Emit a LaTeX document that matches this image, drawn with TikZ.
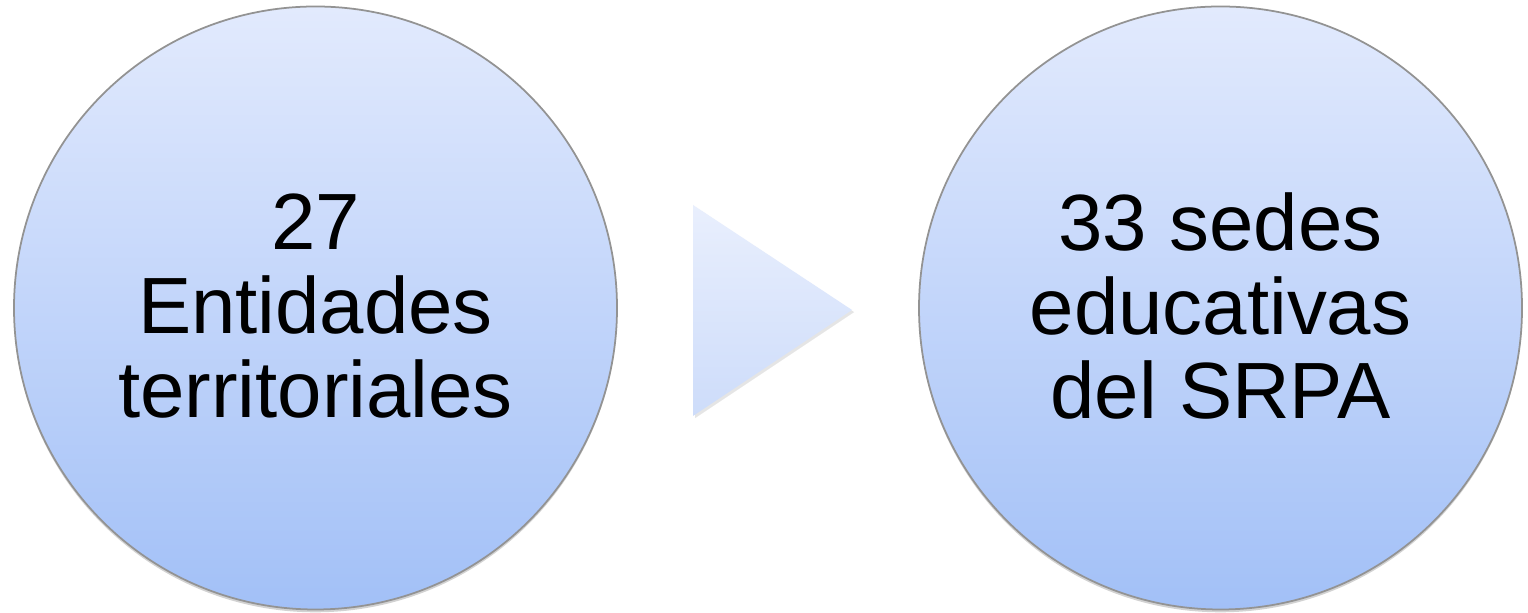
\documentclass[tikz,border=0pt]{standalone}
\usepackage{fontspec}
\setmainfont{Liberation Sans}
\usepackage{xcolor}
\usetikzlibrary{calc, positioning}
\usetikzlibrary{shadows}

\definecolor{discTop}{RGB}{226,234,253}
\definecolor{discBot}{RGB}{162,192,247}
\definecolor{arrTop}{RGB}{233,239,253}
\definecolor{arrBot}{RGB}{205,220,250}

\tikzset{
  disc/.style={circle, minimum size=6.03cm, inner sep=0pt,
    top color=discTop, bottom color=discBot, draw=gray!85, line width=0.5pt,
    drop shadow={shadow xshift=0pt, shadow yshift=-0.8pt, opacity=0.35}},
  disclabel/.style={align=center, inner sep=0pt,
    font=\fontsize{22.7}{24}\selectfont}
}

\begin{document}
\begin{tikzpicture}
\def\W{15.28}
\def\H{6.13}

% canvas
\path[fill=white] (0,0) rectangle (\W,\H);
\useasboundingbox (0,0) rectangle (\W,\H);

% two discs
\node[disc] (ent) at (3.155,3.05) {};
\node[disc] (sed) at (12.205,3.05) {};

% arrow between them
\coordinate (arrT) at (6.93,4.08);
\coordinate (arrP) at (8.52,3.03);
\coordinate (arrB) at (6.93,1.97);
\path[top color=arrTop, bottom color=arrBot,
  drop shadow={shadow xshift=0.6pt, shadow yshift=-0.6pt, opacity=0.2}]
  (arrT) -- (arrP) -- (arrB) -- cycle;

% Labels
\node[disclabel] (entTxt) at ($(ent.center)+(0,0.02)$) {27\\Entidades\\territoriales};
\node[disclabel] (sedTxt) at ($(sed.center)+(0,0.02)$) {33 sedes\\educativas\\del SRPA};
\end{tikzpicture}
\end{document}
